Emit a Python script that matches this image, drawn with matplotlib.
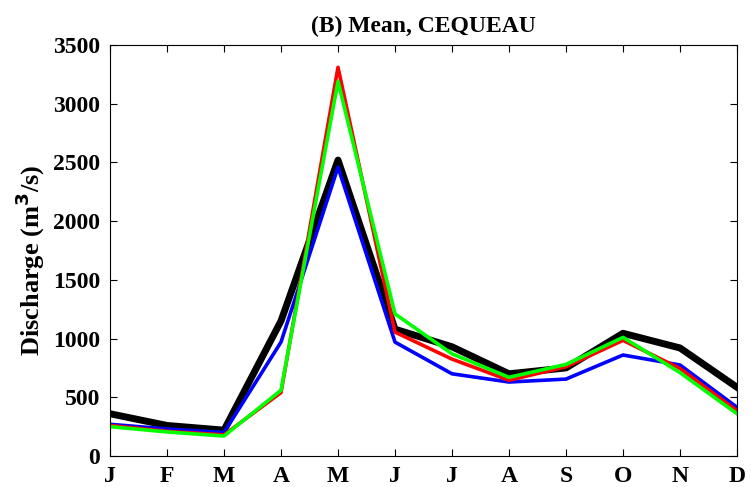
import matplotlib
matplotlib.use('Agg')
import matplotlib.pyplot as plt

months = ['J', 'F', 'M', 'A', 'M', 'J', 'J', 'A', 'S', 'O', 'N', 'D']

obs = [360, 260, 220, 1150, 2520, 1080, 930, 700, 750, 1045, 920, 585]
blue = [270, 230, 200, 970, 2460, 970, 700, 630, 655, 860, 775, 415]
red = [260, 210, 180, 540, 3310, 1055, 825, 645, 760, 985, 745, 385]
green = [250, 205, 170, 560, 3190, 1210, 870, 670, 780, 1010, 710, 360]

plt.rcParams['font.family'] = 'Liberation Serif'
plt.rcParams['font.weight'] = 'bold'

fig = plt.figure(figsize=(7.51, 4.87), dpi=100)
ax = fig.add_axes([110 / 751, 31 / 487, 627 / 751, 411 / 487])

x = range(len(months))
ax.plot(x, obs, color='black', linewidth=5)
ax.plot(x, blue, color='#0000ff', linewidth=2.6)
ax.plot(x, red, color='#ff0000', linewidth=2.6)
ax.plot(x, green, color='#00ff00', linewidth=2.6)

ax.set_xlim(0, 11)
ax.set_ylim(0, 3500)
ax.set_xticks(list(x))
ax.set_xticklabels(months)
ax.set_yticks(range(0, 3501, 500))
ax.tick_params(direction='in', top=True, right=True, labelsize=17, length=5, pad=7)
for lab in ax.get_xticklabels() + ax.get_yticklabels():
    lab.set_fontweight('bold')

ax.set_ylabel('Discharge (m$^\\mathbf{3}$/s)', fontsize=19, fontweight='bold')
ax.yaxis.set_label_coords(-0.1, 0.477)
ax.set_title('(B) Mean, CEQUEAU', fontsize=17, fontweight='bold', pad=9)

fig.savefig('out.png', dpi=100)
